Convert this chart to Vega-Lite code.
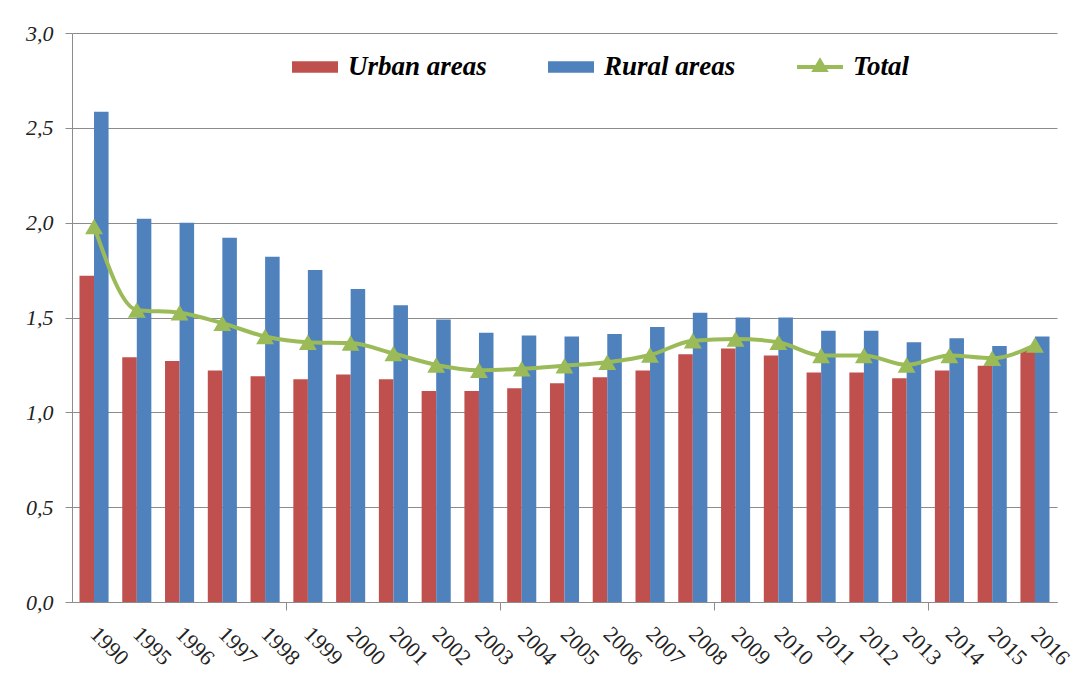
{
  "$schema": "https://vega.github.io/schema/vega-lite/v6.json",
  "autosize": "none",
  "width": 985,
  "height": 569,
  "padding": {"left": 72, "top": 33, "right": 26, "bottom": 79},
  "background": "white",
  "config": {
    "view": {"stroke": null},
    "axis": {"labelFont": "Liberation Serif, Times New Roman, DejaVu Serif, serif", "domainColor": "#8c8c8c", "tickColor": "#8c8c8c", "gridColor": "#8c8c8c", "labelColor": "#222222"}
  },
  "data": {
    "values": [
      {"year": "1990", "series": "Urban areas", "value": 1.72},
      {"year": "1995", "series": "Urban areas", "value": 1.29},
      {"year": "1996", "series": "Urban areas", "value": 1.27},
      {"year": "1997", "series": "Urban areas", "value": 1.22},
      {"year": "1998", "series": "Urban areas", "value": 1.19},
      {"year": "1999", "series": "Urban areas", "value": 1.175},
      {"year": "2000", "series": "Urban areas", "value": 1.2},
      {"year": "2001", "series": "Urban areas", "value": 1.175},
      {"year": "2002", "series": "Urban areas", "value": 1.113},
      {"year": "2003", "series": "Urban areas", "value": 1.113},
      {"year": "2004", "series": "Urban areas", "value": 1.127},
      {"year": "2005", "series": "Urban areas", "value": 1.153},
      {"year": "2006", "series": "Urban areas", "value": 1.185},
      {"year": "2007", "series": "Urban areas", "value": 1.22},
      {"year": "2008", "series": "Urban areas", "value": 1.306},
      {"year": "2009", "series": "Urban areas", "value": 1.337},
      {"year": "2010", "series": "Urban areas", "value": 1.3},
      {"year": "2011", "series": "Urban areas", "value": 1.21},
      {"year": "2012", "series": "Urban areas", "value": 1.21},
      {"year": "2013", "series": "Urban areas", "value": 1.18},
      {"year": "2014", "series": "Urban areas", "value": 1.22},
      {"year": "2015", "series": "Urban areas", "value": 1.245},
      {"year": "2016", "series": "Urban areas", "value": 1.33},
      {"year": "1990", "series": "Rural areas", "value": 2.585},
      {"year": "1995", "series": "Rural areas", "value": 2.02},
      {"year": "1996", "series": "Rural areas", "value": 2.0},
      {"year": "1997", "series": "Rural areas", "value": 1.92},
      {"year": "1998", "series": "Rural areas", "value": 1.82},
      {"year": "1999", "series": "Rural areas", "value": 1.75},
      {"year": "2000", "series": "Rural areas", "value": 1.65},
      {"year": "2001", "series": "Rural areas", "value": 1.565},
      {"year": "2002", "series": "Rural areas", "value": 1.49},
      {"year": "2003", "series": "Rural areas", "value": 1.42},
      {"year": "2004", "series": "Rural areas", "value": 1.405},
      {"year": "2005", "series": "Rural areas", "value": 1.4},
      {"year": "2006", "series": "Rural areas", "value": 1.413},
      {"year": "2007", "series": "Rural areas", "value": 1.45},
      {"year": "2008", "series": "Rural areas", "value": 1.525},
      {"year": "2009", "series": "Rural areas", "value": 1.5},
      {"year": "2010", "series": "Rural areas", "value": 1.5},
      {"year": "2011", "series": "Rural areas", "value": 1.43},
      {"year": "2012", "series": "Rural areas", "value": 1.43},
      {"year": "2013", "series": "Rural areas", "value": 1.37},
      {"year": "2014", "series": "Rural areas", "value": 1.39},
      {"year": "2015", "series": "Rural areas", "value": 1.35},
      {"year": "2016", "series": "Rural areas", "value": 1.4},
      {"year": "1990", "series": "Total", "value": 1.98},
      {"year": "1995", "series": "Total", "value": 1.54},
      {"year": "1996", "series": "Total", "value": 1.525},
      {"year": "1997", "series": "Total", "value": 1.47},
      {"year": "1998", "series": "Total", "value": 1.4},
      {"year": "1999", "series": "Total", "value": 1.37},
      {"year": "2000", "series": "Total", "value": 1.365},
      {"year": "2001", "series": "Total", "value": 1.31},
      {"year": "2002", "series": "Total", "value": 1.25},
      {"year": "2003", "series": "Total", "value": 1.222},
      {"year": "2004", "series": "Total", "value": 1.23},
      {"year": "2005", "series": "Total", "value": 1.246},
      {"year": "2006", "series": "Total", "value": 1.264},
      {"year": "2007", "series": "Total", "value": 1.302},
      {"year": "2008", "series": "Total", "value": 1.378},
      {"year": "2009", "series": "Total", "value": 1.387},
      {"year": "2010", "series": "Total", "value": 1.37},
      {"year": "2011", "series": "Total", "value": 1.3},
      {"year": "2012", "series": "Total", "value": 1.3},
      {"year": "2013", "series": "Total", "value": 1.25},
      {"year": "2014", "series": "Total", "value": 1.3},
      {"year": "2015", "series": "Total", "value": 1.285},
      {"year": "2016", "series": "Total", "value": 1.355}
    ]
  },
  "encoding": {
    "x": {
      "field": "year", "type": "nominal", "sort": null,
      "scale": {"paddingInner": 0.32, "paddingOuter": 0.175},
      "axis": {
        "title": null, "labelAngle": 45, "labelFontSize": 22, "labelPadding": 13, "labelOffset": 7,
        "tickSize": 8, "bandPosition": -0.235, "grid": false,
        "tickOpacity": {"condition": {"test": "indexof(['1999','2004','2009','2014'], datum.value) >= 0", "value": 1}, "value": 0},
        "tickColor": {"condition": {"test": "indexof(['1999','2004','2009','2014'], datum.value) >= 0", "value": "#8c8c8c"}, "value": "transparent"}
      }
    },
    "y": {
      "field": "value", "type": "quantitative",
      "scale": {"domain": [0, 3]},
      "axis": {
        "title": null, "values": [0, 0.5, 1, 1.5, 2, 2.5, 3], "format": ".1f",
        "labelExpr": "replace(format(datum.value, '.1f'), '.', ',')",
        "labelFontSize": 22, "labelFontStyle": "italic", "labelPadding": 12, "tickSize": 7,
        "grid": true, "gridWidth": 1.2
      }
    },
    "color": {
      "field": "series", "type": "nominal",
      "scale": {"domain": ["Urban areas", "Rural areas", "Total"], "range": ["#C0504D", "#4F81BD", "#9BBB59"]},
      "legend": {
        "orient": "none", "legendX": 220, "legendY": 11, "direction": "horizontal", "title": null,
        "padding": 0, "symbolSize": 2116, "labelOffset": 10, "columnPadding": 61,
        "labelFont": "Liberation Serif, Times New Roman, DejaVu Serif, serif", "labelFontSize": 27, "labelFontStyle": "italic", "labelFontWeight": "bold", "labelColor": "#000000",
        "encode": {
          "symbols": {
            "update": {
              "shape": {"signal": "datum.value === 'Total' ? 'M-1,-0.085H1V0.085H-1Z M-0.38,0.22L0,-0.42L0.38,0.22Z' : 'M-1,-0.25H1V0.25H-1Z'"},
              "fill": {"signal": "datum.value === 'Urban areas' ? '#C0504D' : (datum.value === 'Rural areas' ? '#4F81BD' : '#9BBB59')"},
              "stroke": {"value": "transparent"},
              "strokeWidth": {"value": 0},
              "opacity": {"value": 1},
              "fillOpacity": {"value": 1}
            }
          }
        }
      }
    }
  },
  "layer": [
    {
      "transform": [{"filter": "datum.series !== 'Total'"}],
      "mark": {"type": "bar"},
      "encoding": {
        "xOffset": {"field": "series", "type": "nominal", "scale": {"domain": ["Urban areas", "Rural areas"], "paddingInner": 0, "paddingOuter": 0}}
      }
    },
    {
      "transform": [{"filter": "datum.series === 'Total'"}],
      "mark": {"type": "line", "interpolate": "monotone", "strokeWidth": 4}
    },
    {
      "transform": [{"filter": "datum.series === 'Total'"}],
      "mark": {"type": "point", "shape": "triangle-up", "filled": true, "size": 320, "opacity": 1}
    }
  ]
}
